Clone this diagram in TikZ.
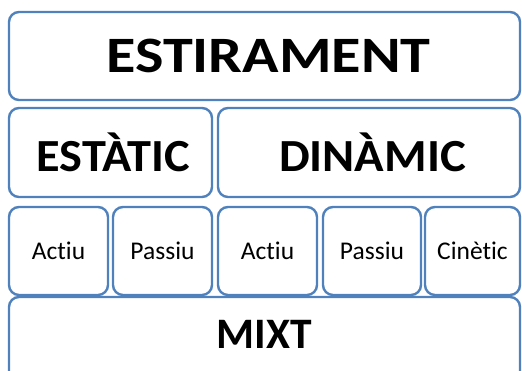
\documentclass[tikz,border=0pt]{standalone}
\usepackage{fontspec}
\setmainfont[RawFeature={-liga}]{Carlito}
\definecolor{boxblue}{RGB}{79,129,189}
\tikzset{
  cell/.style={draw=boxblue, line width=2.4pt, rounded corners=10pt, fill=white, inner sep=0pt, text=black},
  bigt/.style={font=\bfseries\fontsize{51}{51}\selectfont},
  midt/.style={font=\bfseries\fontsize{46}{46}\selectfont},
  smallt/.style={font=\fontsize{25.5}{25.5}\selectfont}
}
\begin{document}
\begin{tikzpicture}[x=1pt,y=-1pt]
\useasboundingbox (0,0) rectangle (522,371);
\clip (0,0) rectangle (522,371);
\fill[white] (0,0) rectangle (522,371);
\node[cell, minimum width=511pt, minimum height=88pt] (top) at (264.5,56) {};
\node[bigt] (topt) at ([xshift=4pt]top.center) {\scalebox{1.18}[1]{ESTIRAMENT}};
\node[cell, minimum width=203pt, minimum height=89pt] (est) at (110.5,152.5) {};
\node[midt] (estt) at ([xshift=3pt]est.center) {\scalebox{1.05}[1]{ESTÀTIC}};
\node[cell, minimum width=302pt, minimum height=89pt] (din) at (369,152.5) {};
\node[midt] (dint) at ([xshift=3.5pt]din.center) {\scalebox{1.06}[1]{DINÀMIC}};
\node[cell, minimum width=99pt, minimum height=88pt] (a1) at (58.5,251) {};
\node[smallt] (a1t) at (a1.center) {Actiu};
\node[cell, minimum width=99pt, minimum height=88pt] (p1) at (162.5,251) {};
\node[smallt] (p1t) at (p1.center) {Passiu};
\node[cell, minimum width=99pt, minimum height=88pt] (a2) at (267.5,251) {};
\node[smallt] (a2t) at (a2.center) {Actiu};
\node[cell, minimum width=98pt, minimum height=88pt] (p2) at (372,251) {};
\node[smallt] (p2t) at (p2.center) {Passiu};
\node[cell, minimum width=95pt, minimum height=88pt] (ci) at (472.5,251) {};
\node[smallt] (cit) at (ci.center) {Cinètic};
\node[cell, minimum width=511pt, minimum height=100pt] (mx) at (264.5,347) {};
\node[font=\bfseries\fontsize{43.5}{43.5}\selectfont] (mxt) at (264.5,334) {MIXT};
\end{tikzpicture}
\end{document}
